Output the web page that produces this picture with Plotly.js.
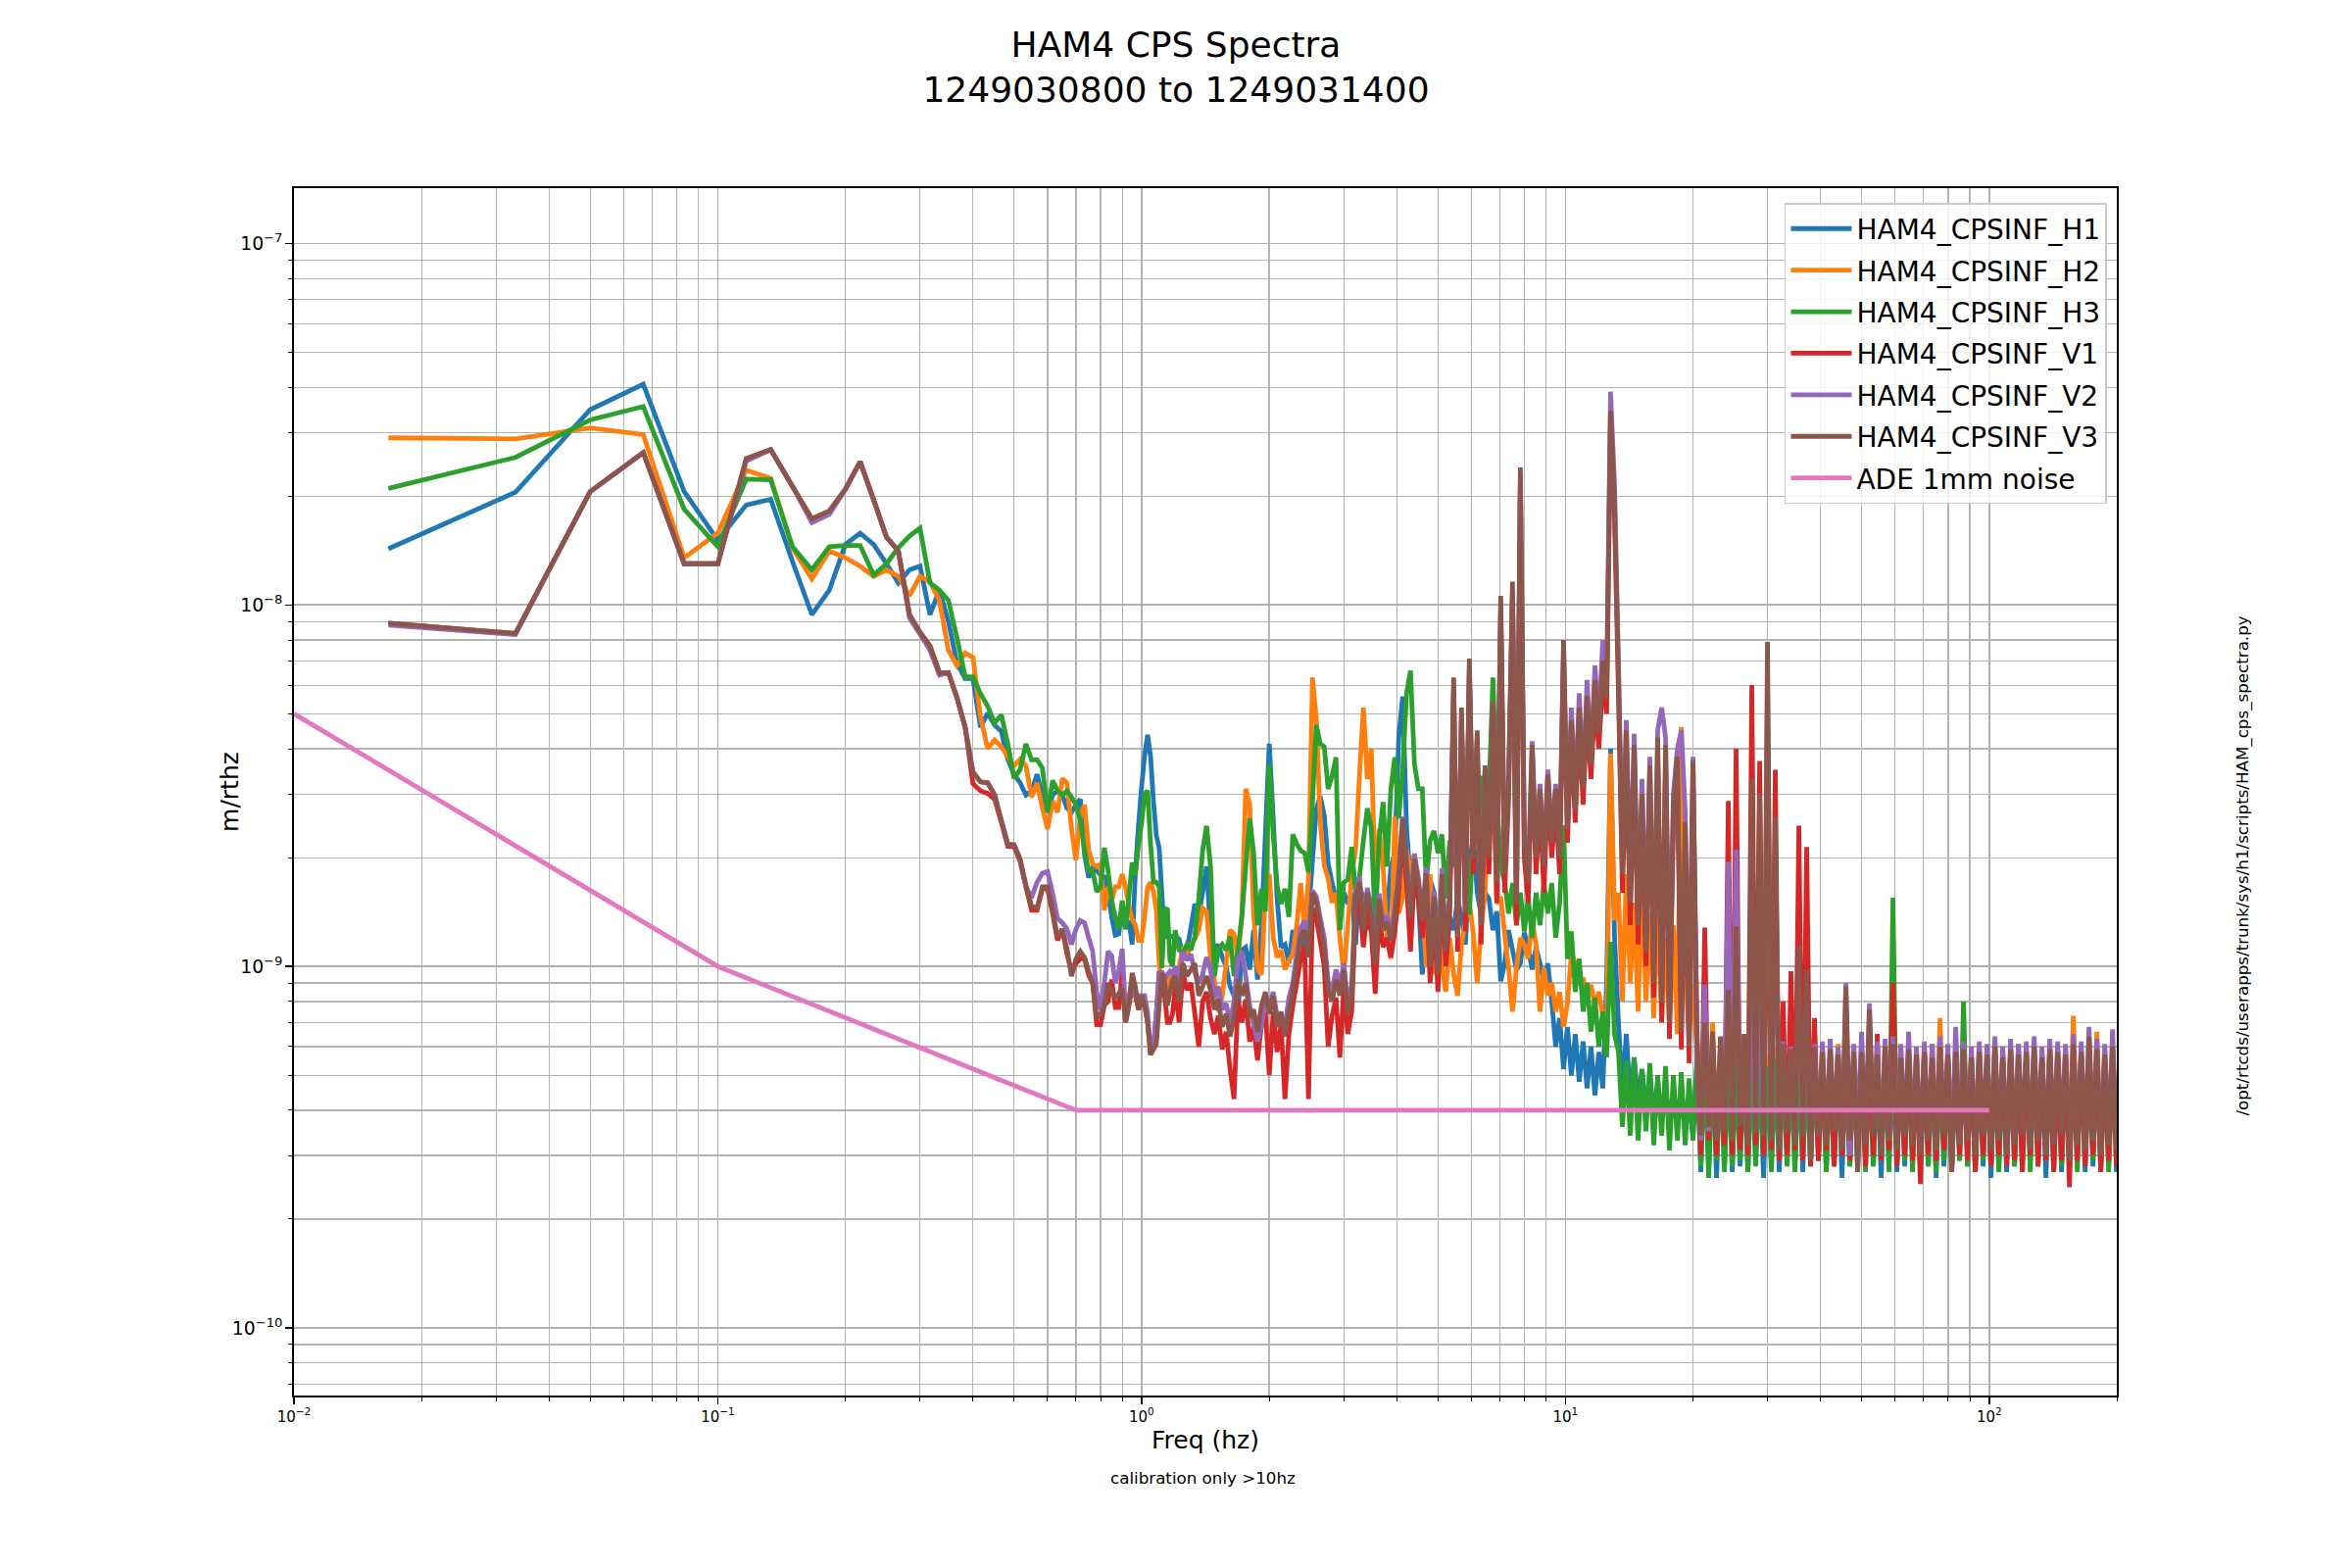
<!DOCTYPE html>
<html><head><meta charset="utf-8">
<script src="https://cdn.plot.ly/plotly-3.0.1.min.js"></script>
<style>html,body{margin:0;padding:0;background:#fff}</style>
</head><body>
<div id="chart" style="width:2400px;height:1600px"></div>
<script>
// values are in units of 1e-10 m/rthz
const UNIT = 1e-10;

const fLow = [0.0167,0.0333,0.05,0.0667,0.0833,0.1,0.1167,0.1333,0.15,0.1667,0.1833,0.2,0.2167,0.2333,0.25,0.2667,0.2833,0.3,0.3167,0.3333,0.35,0.3667,0.3833,0.4,0.4167,0.4333,0.45,0.4667,0.4833,0.5,0.5167,0.5333,0.55,0.5667,0.5833,0.6,0.6167,0.6333,0.65,0.6667,0.6833,0.7,0.7167,0.7333,0.75,0.7667,0.7833,0.8,0.8167,0.8333,0.85,0.8667,0.8833,0.9,0.9167,0.9333,0.95,0.9667,0.9833,1.0,1.0167,1.0333,1.05,1.0667,1.0833,1.1,1.1167,1.1333,1.15,1.1667,1.1833];

const fMid = [1.200,1.226,1.252,1.279,1.307,1.335,1.364,1.393,1.423,1.454,
1.485,1.517,1.550,1.583,1.617,1.652,1.688,1.724,1.761,1.799,
1.838,1.877,1.918,1.959,2.001,2.044,2.088,2.133,2.179,2.226,
2.274,2.323,2.373,2.424,2.476,2.530,2.584,2.640,2.697,2.755,
2.814,2.875,2.937,3.000,3.065,3.131,3.198,3.267,3.337,3.409,
3.483,3.558,3.634,3.713,3.793,3.874,3.958,4.043,4.130,4.219,
4.310,4.403,4.498,4.595,4.694,4.795,4.898,5.004,5.111,5.222,
5.334,5.449,5.566,5.686,5.809,5.934,6.062,6.192,6.326,6.462,
6.601,6.744,6.889,7.037,7.189,7.344,7.502,7.664,7.829,7.998,
8.170,8.346,8.526,8.710,8.898,9.089,9.285,9.485,9.690,9.899,
10.11,10.33,10.55,10.78,11.01,11.25,11.49,11.74,11.99,12.25,
12.51,12.78,13.06,13.34,13.63,13.92,14.22,14.53,14.84,15.16,
15.49,15.82,16.16,16.51,16.87,17.23,17.60,17.98,18.37,18.77,
19.17,19.58,20.00];

const fHigh = [20.43,20.87,21.32,21.78,22.25,22.73,23.22,23.72,24.23,24.75,
25.28,25.83,26.38,26.95,27.53,28.12,28.73,29.35,29.98,30.62,
31.28,31.96,32.64,33.35,34.06,34.80,35.55,36.31,37.09,37.89,
38.71,39.54,40.39,41.26,42.15,43.06,43.98,44.93,45.90,46.89,
47.90,48.93,49.98,51.06,52.16,53.28,54.43,55.60,56.80,58.02,
59.27,60.55,61.85,63.18,64.54,65.93,67.35,68.80,70.29,71.80,
73.35,74.93,76.54,78.19,79.87,81.59,83.35,85.14,86.98,88.85,
90.76,92.72,94.71,96.75,98.84,100.97,103.14,105.36,107.63,109.95,
112.32,114.74,117.21,119.73,122.31,124.94,127.63,130.38,133.19,136.06,
138.99,141.98,145.04,148.16,151.35,154.61,157.94,161.34,164.82,168.37,
171.99,175.70,179.48,183.35,187.30,191.33,195.45,199.66];

// HAM4_CPSINF_H1
const h1Low = [143,205,347,408,206,151,189,196,132,94,
110,147,158,147,130,115,125,128,94,110,
90,69,62.6,62.6,45.9,50.2,46.5,44.7,37.4,34,
32.2,29.8,30.6,34,29.8,26.7,29.8,30.6,29.8,27.4,
26.7,28,29,20.4,17.6,18.9,18.4,17.9,17.7,16.1,
13.7,12.2,12.3,14.5,12.7,13.4,11.5,18.3,24.6,31.4,
38.4,43.7,38,28.5,23,21.3,15.8,12.1,12.1,12.1,12.1];
const h1Mid = [12.1,11.9,10.6,11.1,12.8,14.9,13.9,16.0,18.9,12.6,
11.1,11.5,10.6,10.0,8.8,8.3,7.4,11.1,11.3,9.8,
12.6,9.2,13.0,23.2,41.3,25.7,15.4,11.3,11.5,10.2,
12.6,11.1,12.1,11.1,13.9,19.6,27.3,29.5,26.2,19.3,
17.1,15.4,13.7,16.0,14.9,16.0,11.5,16.7,15.4,12.6,
14.6,16.0,13.7,12.6,13.9,18.9,20.6,42.9,55.8,24.1,
17.1,16.4,15.4,9.5,12.6,17.4,16.0,12.6,11.3,10.2,
13.7,12.6,15.4,13.7,11.5,18.9,23.2,16.0,13.9,16.0,
15.4,12.6,14.2,9.1,10.2,12.6,11.1,9.8,10.2,12.4,
11.3,9.8,11.3,10.2,9.1,10.2,8.0,6.0,7.2,5.2,
6.8,5.0,6.5,4.8,6.2,4.6,6.0,4.4,5.8,4.6,
9.0,40,12,7.0,4.5,6.5,4.3,5.6,4.2,5.2,
4.0,5.0,3.9,4.8,3.8,4.6,3.7,4.4,3.6,4.3,
3.5,4.2,3.4];
const h1High = [5.5,2.7,5.7,2.8,5.4,2.6,5.6,2.8,5.5,2.7,
5.3,2.8,5.6,2.7,5.5,2.9,5.4,2.6,5.7,2.8,
5.4,2.7,5.6,2.9,5.3,2.8,5.5,2.7,5.6,2.8,
5.4,2.9,5.5,2.7,5.3,2.8,5.6,2.6,5.4,2.8,
5.6,2.7,5.4,2.9,5.5,2.8,5.3,2.6,5.6,2.8,
5.5,2.7,5.4,2.8,5.6,2.9,5.3,2.7,5.5,2.8,
5.4,2.6,5.6,2.8,5.5,2.7,5.3,2.9,5.6,2.8,
5.5,2.7,5.4,2.8,5.6,2.6,5.5,2.8,5.3,2.7,
5.6,2.8,5.4,2.7,5.5,2.9,5.6,2.8,5.4,2.6,
5.5,2.8,5.3,2.7,5.6,2.8,5.4,2.9,5.5,2.7,
5.6,2.8,5.4,2.7,5.5,2.8,5.6,2.7];

// HAM4_CPSINF_H2
const h2Low = [290,288,309,296,135,158,236,224,144,118,
141,135,128,120,125,120,106,120,116,103,
75,68,73.6,71.6,48.9,40.1,42.3,40.6,38,35.9,
37.4,35.9,29.4,32.2,27.4,24,28.7,26.7,33.1,32.2,
24,19.7,26,28,21,19.2,18.9,19.2,14.3,16.6,
15.2,16.6,16.6,18,16.6,14.7,13.5,13,11.8,11.8,
13.8,16.6,17.1,16.1,14.3,10.2,8.9,9.2,8.3,9.7,9.2];
const h2Mid = [8.6,10.0,11.3,10.6,11.5,11.9,12.6,14.5,14.2,10.6,
9.2,7.5,8.3,10.2,12.6,12.3,10.4,14.0,31.0,28.0,
14.0,9.8,9.5,16.0,18.0,12.0,10.6,11.1,9.8,10.4,
10.8,13.0,17.0,12.5,17.5,63.0,48.0,25.0,19.0,17.5,
15.0,16.0,12.0,9.5,13.0,18.0,21.0,34.0,52.0,33.0,
40.0,17.0,24.0,19.0,12.0,10.5,26.0,14.0,15.5,21.0,
18.0,20.5,15.4,15.0,10.0,18.0,9.5,14.0,10.0,8.5,
12.0,9.5,8.3,11.5,13.4,15.0,12.3,9.0,12.8,15.9,
28.6,32.4,14.9,15.6,12.3,9.9,7.5,9.9,12.0,11.5,
10.5,13.4,11.5,7.5,9.9,8.3,9.0,7.5,8.5,6.8,
7.9,10.9,10.2,9.0,9.3,8.3,8.9,7.8,8.5,7.3,
6.4,38.8,13.4,16,8,18,9,15,7.5,17,
8,14,7.2,15,7,12,6.8,13,6.5,46,
10,6.5,9];
const h2High = [5.8,3.1,5.9,3.2,7.0,3.0,5.8,3.1,6.0,3.2,
5.7,3.1,6.1,3.0,5.8,3.2,5.9,3.1,5.7,3.0,
6.0,3.2,5.8,3.1,6.1,3.0,5.7,3.2,5.9,3.1,
5.8,3.0,6.0,3.2,5.7,3.1,6.1,3.0,5.9,3.2,
5.7,3.1,6.0,3.0,5.8,3.2,5.9,3.1,6.1,3.0,
5.8,3.2,6.0,3.1,5.7,3.0,5.9,3.2,5.8,3.1,
6.1,3.0,7.2,3.2,5.8,3.1,6.0,3.0,5.9,3.2,
5.7,3.1,6.1,3.0,5.8,3.2,6.0,3.1,5.9,3.0,
5.8,3.2,6.1,3.1,5.9,3.0,6.0,3.2,5.8,3.1,
6.1,3.0,5.9,3.2,6.0,3.1,7.3,3.0,5.9,3.2,
6.1,3.1,6.6,3.0,6.0,3.2,6.1,3.1];

// HAM4_CPSINF_H3
const h3Low = [210,256,325,354,184,145,223,222,145,125,
145,146,146,121,130,144,155,163,115,110,
103,81,63.3,63.3,56.9,52.5,47.2,49.6,41.3,33.1,
35,41.3,37.3,37.3,35.4,26.7,32.7,30.6,29.8,30.6,
29.4,28,25.3,21,18.4,18.4,16.1,16.6,21.3,18.4,
15.2,13.7,12.7,15.2,12.7,15.6,19.4,17.9,21.8,24.9,
30,30.6,21.8,17.1,17.1,16.6,9.9,14.3,14.5,10.4,10];
const h3Mid = [12.6,11.1,10.9,11.5,11.1,12.1,15.4,20.9,24.5,18.9,
9.4,11.1,11.5,11.1,12.1,9.4,11.1,13.7,18.9,25.7,
20.6,13.0,16.4,14.2,36.3,23.2,16.7,14.9,16.4,13.7,
23.2,21.8,20.9,20.6,18.2,28.5,46.5,41.3,40.5,31.0,
33.6,37.9,12.6,17.1,17.4,21.4,16.0,17.7,22.3,27.4,
24.1,13.0,22.3,28.5,18.9,31.0,37.9,25.7,34.9,57.0,
65.8,36.3,31.0,31.0,17.1,22.3,23.7,20.6,23.2,15.4,
22.3,18.9,20.6,28.5,22.3,13.9,23.2,31.0,33.6,23.2,
30.0,63.0,29.5,18.9,17.1,14.0,17.0,13.0,16.0,12.5,
15.5,12.0,16.0,13.0,17.0,14.0,17.0,12.0,15.0,24.6,
10.5,12.5,8.5,10.5,7.5,9.0,6.6,8.2,6.0,7.5,
5.6,11.7,6.5,5.8,3.6,5.5,3.4,5.6,3.3,5.2,
3.5,5.4,3.2,5.0,3.4,5.3,3.1,5.0,3.3,5.1,
3.2,4.9,3.3];
const h3High = [5.4,2.8,5.6,2.6,5.2,2.9,5.5,2.7,5.3,2.8,
5.6,2.9,5.2,2.7,5.5,2.8,5.4,3.0,5.3,2.7,
5.6,2.9,5.2,2.8,5.5,2.7,5.4,2.9,5.3,2.8,
5.5,2.9,5.4,2.7,5.6,2.8,5.2,3.0,5.5,2.8,
5.3,2.9,5.5,2.7,5.4,2.8,5.6,2.9,5.3,2.7,
15.5,2.8,5.4,2.9,5.5,2.7,5.2,2.9,5.6,2.8,
5.4,2.7,5.5,2.9,5.3,2.8,5.6,2.9,8.0,2.8,
5.5,2.7,5.4,2.9,5.3,2.8,5.6,2.7,5.4,2.9,
5.5,2.8,5.3,2.9,5.6,2.7,5.4,2.8,5.5,2.9,
5.3,2.7,5.6,2.8,5.4,2.9,5.5,2.7,5.6,2.8,
5.4,2.9,5.5,2.8,5.6,2.7,5.5,2.9];

// HAM4_CPSINF_V1
const v1Low = [89,83.4,206,264,130,130,254,269,213,173,
182,209,249,195,154,141,94,84,77,65,
65,55.4,45.9,32,30.6,30.1,29,25,21.5,21.5,
19.5,16.6,14.3,14.3,16.4,16.4,14,11.8,12.7,10.8,
9.7,10.2,10.5,10.5,9.45,9.0,6.9,6.9,7.8,8.0,
9.2,7.7,7.7,9.7,7.0,7.8,8.7,8.3,7.6,8.0,
7.8,7.0,5.7,5.9,7.4,9.7,9.2,8.3,7.0,7.0,7.4];
const v1Mid = [8.8,7.0,9.6,8.6,9.0,7.4,6.0,8.0,8.5,7.2,
6.5,7.3,5.9,6.6,5.2,4.3,8.1,7.0,8.1,6.2,
6.8,5.5,6.9,7.5,5.0,7.5,5.8,6.9,4.3,6.5,
7.8,9.0,10.5,11.4,4.3,14.5,13.6,11.7,10.0,6.0,
7.3,8.2,5.6,8.8,6.5,7.5,14.0,15.4,11.3,14.5,
12.5,8.4,13.9,11.3,12.0,10.6,12.5,16.0,23.0,17.0,
11.0,18.0,15.4,12.0,16.3,9.0,14.0,8.5,16.3,10.0,
14.0,58,11.0,48,12.5,66,18.0,41,11.5,33,
18,49,15,96,16,29,105,13,220,20,
15,37,18,28,16,31,20,28,18,72,
22,44,25,47,28,50,33,55,40,62,
50,320,175,57,16,40,13,37,11.5,27,
10,33,8.2,39,7.0,37,6.3,25,34,5.9,
23,5.4,33];
const v1High = [5.8,3.0,12.8,3.3,6.0,3.0,5.6,3.2,28.7,3.0,
40,3.1,6.3,3.0,60,3.2,37,3.0,30,3.1,
35,2.9,8.0,3.0,9.7,3.1,24.5,2.9,21.4,2.8,
7.2,2.9,5.6,3.1,5.8,2.8,5.9,3.0,6.0,2.9,
5.6,3.1,5.9,2.8,5.7,3.0,6.5,2.9,5.8,3.1,
9.0,2.8,5.6,3.0,5.8,2.9,5.5,2.5,5.9,3.0,
5.7,2.9,6.0,3.1,5.6,2.8,5.8,3.0,5.9,2.9,
5.7,2.7,5.8,3.0,5.6,2.8,6.0,3.0,5.7,2.8,
5.9,2.9,5.6,2.7,5.8,3.0,5.9,2.8,5.7,2.9,
5.8,2.7,5.6,2.9,5.8,2.45,6.0,2.9,5.7,2.8,
5.9,3.0,5.8,2.7,5.6,2.9,5.9,2.8];

// HAM4_CPSINF_V2
const v2Low = [88,82.8,206,264,130,130,250,269,213,169,
178,209,249,195,154,141,92,83,75,64,
65,55.4,45.9,34.5,32.4,32.2,29.8,25.3,21.8,21.7,
19.8,16.6,15.5,17.1,18.1,18.3,15.9,13.6,13.2,12.7,
11.5,12.7,13.4,13.2,12,11,8.5,7.6,9.0,11,
10.7,9,9.7,11.2,7.4,8.3,9,8.3,8.3,8.3,
8.3,7.4,5.8,6.1,7.4,9.5,9.7,9.2,9.5,9.7,9.5];
const v2Mid = [10.0,9.0,11.0,10.4,10.8,9.6,9.0,9.5,10.6,9.8,
8.2,8.8,7.6,7.9,7.0,8.0,10.5,11.0,9.4,7.8,
6.9,6.2,6.9,7.9,7.7,8.5,7.3,7.0,6.8,8.2,
9.0,10.8,12.8,13.4,11.5,16.2,15.6,13.6,12.0,9.1,
8.6,9.8,8.9,10.2,7.9,8.9,15.9,17.7,13.2,16.5,
14.4,10.9,15.9,13.2,13.8,12.3,14.5,18.3,26.0,19.5,
14.3,20.5,17.6,14.0,18.8,10.5,16.2,10.0,18.7,11.5,
16.1,60,12.5,50,14.5,68,21,43,13.5,35,
21,52,18,100,19,33,110,16,230,23,
18,42,21,32,20,35,23,32,21,76,
26,52,29,57,33,62,38,68,47,80,
62,389,215,70,20,48,17,44,14,33,
12,38,10,45,52,43,8.5,30,40,45,
27,7.0,38];
const v2High = [6.2,3.3,8.9,3.5,6.4,3.4,6.1,3.6,19.5,3.4,
21,3.6,6.3,3.3,10,3.5,9.5,3.4,60,3.3,
20,3.2,6.2,3.5,6.0,3.3,9.0,3.4,8.0,3.1,
6.1,3.4,6.2,3.3,6.3,3.5,6.0,3.2,9.0,3.0,
6.1,3.4,6.6,3.3,7.9,3.4,6.2,3.1,6.3,3.3,
6.4,3.2,6.1,3.4,6.6,3.3,6.0,3.1,6.2,3.3,
6.1,3.2,6.4,3.4,6.1,3.0,6.8,3.3,6.2,3.4,
6.0,3.1,6.2,3.4,6.1,3.2,6.4,3.3,6.0,3.1,
6.3,3.3,6.1,3.4,6.2,3.2,6.4,3.3,6.0,3.1,
6.3,3.3,6.2,3.4,6.1,3.0,6.5,3.3,6.2,3.2,
6.8,3.3,6.3,3.1,6.1,3.3,6.7,3.2];

// HAM4_CPSINF_V3
const v3Low = [89,83.4,206,264,130,130,254,269,213,173,
182,209,249,195,154,141,94,84,77,65,
65,55.4,45.9,34.5,32.4,32.2,29.8,25.3,21.8,21.7,
19.8,16.8,14.7,14.5,16.6,16.6,14.3,12,12.7,11.2,
9.4,10.5,11,10.6,9.7,9.0,7.2,7.4,7.8,9.0,
8.5,8.2,8.4,8.7,7.0,7.8,9.6,8.8,7.6,8.3,
7.8,7.0,5.7,5.9,6.1,7.8,9.6,9.0,7.8,8.5,9.2];
const v3Mid = [9.4,8.0,10.2,9.4,9.8,10.2,8.3,8.8,9.4,8.6,
7.6,8.1,6.8,7.4,6.4,7.2,9.2,8.3,9.0,7.2,
7.6,6.6,7.8,8.5,7.4,8.3,6.8,7.5,6.4,7.5,
8.6,10.2,12.1,12.6,10.6,16.0,15.1,13.0,11.3,8.6,
8.0,9.2,8.3,9.8,7.4,8.3,15.4,17.1,12.6,16.0,
13.9,10.2,15.4,12.6,13.3,11.8,13.9,17.7,25.7,18.9,
13.7,19.8,17.1,13.4,18.1,10.0,15.6,9.5,18.0,11.0,
15.0,63,12.0,52,14.0,71,20.0,45,13.0,36,
20,54,17,106,18,32,116,15,240,22,
17,41,20,31,19,34,22,31,20,80,
24,48,27,52,31,56,36,62,44,70,
55,344,188,63,18,45,15,41,13,30,
11,36,9,43,8,41,7,28,38,6.6,
25,6.0,37];
const v3High = [6.8,3.4,7.0,3.6,6.6,3.3,6.4,3.5,8.6,3.3,
12.9,3.6,6.5,3.2,33,3.5,30,3.4,79,3.3,
26,3.1,6.1,3.5,5.9,3.2,11.4,3.4,9.8,2.9,
6.0,3.4,5.8,3.2,5.9,3.5,5.7,3.1,8.8,3.3,
5.8,2.7,5.8,3.2,7.6,3.4,5.7,3.0,6.0,3.3,
6.1,3.1,5.6,3.4,5.9,3.2,5.7,3.0,5.8,3.3,
5.6,3.1,6.0,3.4,5.7,2.7,5.8,3.2,5.9,3.3,
5.6,3.0,5.8,3.4,5.7,3.1,6.0,3.3,5.6,3.0,
5.9,3.2,5.7,3.4,5.8,3.1,6.0,3.3,5.6,3.0,
5.9,3.2,5.8,3.4,5.7,2.9,6.1,3.2,5.8,3.1,
6.4,3.3,5.9,3.0,5.7,3.2,6.0,3.1];

// ADE 1mm noise
const adeFreq = [0.01, 0.1, 0.7, 100];
const adeVal = [50, 10, 4, 4];

const seriesNames = ['HAM4_CPSINF_H1','HAM4_CPSINF_H2','HAM4_CPSINF_H3','HAM4_CPSINF_V1','HAM4_CPSINF_V2','HAM4_CPSINF_V3','ADE 1mm noise'];
const colors = ['#1f77b4','#ff7f0e','#2ca02c','#d62728','#9467bd','#8c564b','#e377c2'];
const xTickVals = [0.01, 0.1, 1, 10, 100];
const xTickText = ['10<sup>\u22122</sup>','10<sup>\u22121</sup>','10<sup>0</sup>','10<sup>1</sup>','10<sup>2</sup>'];

function build(low, mid, high) {
  const x = [], y = [];
  [[fLow, low], [fMid, mid], [fHigh, high]].forEach(function (p) {
    const f = p[0], v = p[1];
    const n = Math.min(f.length, v.length);
    for (let i = 0; i < n; i++) { x.push(f[i]); y.push(v[i] * UNIT); }
  });
  return {x: x, y: y};
}

const LW = 4.8;
const parts = [[h1Low,h1Mid,h1High],[h2Low,h2Mid,h2High],[h3Low,h3Mid,h3High],
               [v1Low,v1Mid,v1High],[v2Low,v2Mid,v2High],[v3Low,v3Mid,v3High]];
const traces = parts.map(function (p, i) {
  const d = build(p[0], p[1], p[2]);
  return {x: d.x, y: d.y, type: 'scatter', mode: 'lines', name: seriesNames[i], legendgroup: 'g' + i,
          line: {color: colors[i], width: LW, simplify: false}};
});
traces.push({x: adeFreq, y: adeVal.map(function (v) { return v * UNIT; }), type: 'scatter', mode: 'lines',
             name: seriesNames[6], legendgroup: 'g6', line: {color: colors[6], width: LW}});

const FONT = 'DejaVu Sans';
const axisCommon = {
  type: 'log', exponentformat: 'power', showexponent: 'all',
  showgrid: true, gridcolor: '#b0b0b0', gridwidth: 1.6,
  ticks: 'outside', ticklen: 7, tickwidth: 1.5, tickcolor: '#000',
  tickfont: {family: FONT, size: 15, color: '#000'},
  showline: true, linecolor: '#000', linewidth: 1.6, mirror: true,
  zeroline: false,
  minor: {dtick: 'D1', showgrid: true, gridcolor: '#b4b4b4', gridwidth: 1.2,
          ticks: 'outside', ticklen: 4, tickwidth: 1, tickcolor: '#000'}
};

const layout = {
  width: 2400, height: 1600,
  margin: {l: 300, r: 240, t: 192, b: 176},
  paper_bgcolor: '#fff', plot_bgcolor: '#fff',
  font: {family: FONT, color: '#000'},
  title: {text: 'HAM4 CPS Spectra<br>1249030800 to 1249031400',
          font: {family: FONT, size: 36, color: '#000'},
          x: 0.5, xanchor: 'center', y: 0.964, yanchor: 'top'},
  xaxis: Object.assign({}, axisCommon, {range: [-2, 2.30103], tickmode: 'array',
          tickvals: xTickVals, ticktext: xTickText,
          title: {text: 'Freq (hz)', font: {family: FONT, size: 25, color: '#000'}, standoff: 2}}),
  yaxis: Object.assign({}, axisCommon, {range: [-10.187, -6.847], dtick: 1}),
  showlegend: true,
  legend: {x: 0.9946, xanchor: 'right', y: 0.9878, yanchor: 'top',
           bgcolor: 'rgba(255,255,255,0.8)', bordercolor: '#cccccc', borderwidth: 1.5,
           itemwidth: 62, tracegroupgap: 3,
           font: {family: FONT, size: 28, color: '#000'}},
  annotations: [
    {text: 'm/rthz', xref: 'paper', yref: 'paper', x: -0.0355, y: 0.5, xanchor: 'center', yanchor: 'middle',
     textangle: -90, showarrow: false, font: {family: FONT, size: 25, color: '#000'}},
    {text: 'calibration only >10hz', xref: 'paper', yref: 'paper', x: 0.4984, y: -0.078,
     showarrow: false, font: {family: FONT, size: 16.7, color: '#000'}},
    {text: '/opt/rtcds/userapps/trunk/sys/h1/scripts/HAM_cps_spectra.py', xref: 'paper', yref: 'paper',
     x: 1.0753, y: 0.4383, textangle: -90, showarrow: false,
     font: {family: FONT, size: 16.7, color: '#000'}}
  ]
};

Plotly.newPlot('chart', traces, layout, {staticPlot: true, displayModeBar: false});
</script>
</body></html>
